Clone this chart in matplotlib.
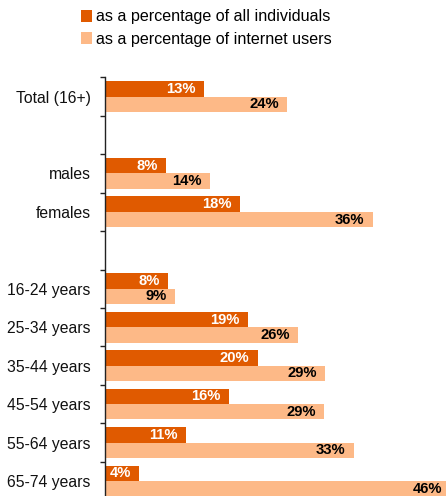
import matplotlib
matplotlib.use("Agg")
import matplotlib.pyplot as plt
from matplotlib.patches import Patch
import numpy as np

plt.rcParams['font.family'] = ['Liberation Sans', 'DejaVu Sans']

categories = ["Total (16+)", "", "males", "females", "", "16-24 years",
              "25-34 years", "35-44 years", "45-54 years", "55-64 years", "65-74 years"]
all_individuals = [13.0, None, 8.1, 17.8, None, 8.3, 18.8, 20.1, 16.3, 10.7, 4.5]
internet_users = [24.0, None, 13.8, 35.2, None, 9.25, 25.4, 28.9, 28.8, 32.7, 45.4]
all_labels = ["13%", "", "8%", "18%", "", "8%", "19%", "20%", "16%", "11%", "4%"]
internet_labels = ["24%", "", "14%", "36%", "", "9%", "26%", "29%", "29%", "33%", "46%"]
series_names = ["as a percentage of all individuals", "as a percentage of internet users"]

dark = "#E05A00"
light = "#FDB987"

W, H = 446, 496
fig = plt.figure(figsize=(W / 100, H / 100), dpi=100)
left_px, right_px, top_px, bot_px = 104.5, 446, 77.3, 500.2
ax = fig.add_axes([left_px / W, 1 - bot_px / H, (right_px - left_px) / W, (bot_px - top_px) / H])

n = len(categories)
ypos = np.arange(n)
bh = 0.4
for i in range(n):
    if all_individuals[i] is not None:
        ax.barh(i - bh / 2, all_individuals[i], height=bh, color=dark, edgecolor='none')
        ax.annotate(all_labels[i], (all_individuals[i], i - bh / 2), xytext=(-5.8, 0),
                    textcoords='offset points', ha='right', va='center', color='white',
                    fontsize=10.6, fontweight='bold', annotation_clip=False)
    if internet_users[i] is not None:
        ax.barh(i + bh / 2, internet_users[i], height=bh, color=light, edgecolor='none')
        ax.annotate(internet_labels[i], (internet_users[i], i + bh / 2), xytext=(-5.8, 0),
                    textcoords='offset points', ha='right', va='center', color='black',
                    fontsize=10.6, fontweight='bold', annotation_clip=False, clip_on=False)

ax.set_xlim(0, (right_px - left_px) / 7.62)
ax.set_ylim(n - 0.5, -0.5)
ax.set_yticks(ypos)
ax.set_yticklabels(categories, fontsize=11.3, color='#111111')
ax.tick_params(axis='y', which='major', length=0, pad=10)
ax.set_yticks(np.arange(n + 1) - 0.5, minor=True)
ax.tick_params(axis='y', which='minor', length=3.8, width=1, color='#222222', direction='out')
ax.set_xticks([])
for s in ['top', 'right', 'bottom']:
    ax.spines[s].set_visible(False)
ax.spines['left'].set_color('#222222')
ax.spines['left'].set_linewidth(1)

handles = [Patch(facecolor=dark, edgecolor='none'), Patch(facecolor=light, edgecolor='none')]
fig.legend(handles, series_names, loc='upper left', bbox_to_anchor=(81 / W, 1 - 9.5 / H),
           frameon=False, fontsize=11.6, handlelength=0.7, handleheight=0.7,
           handletextpad=0.25, labelspacing=0.45, borderpad=0, borderaxespad=0)

fig.savefig("out.png", dpi=100)
